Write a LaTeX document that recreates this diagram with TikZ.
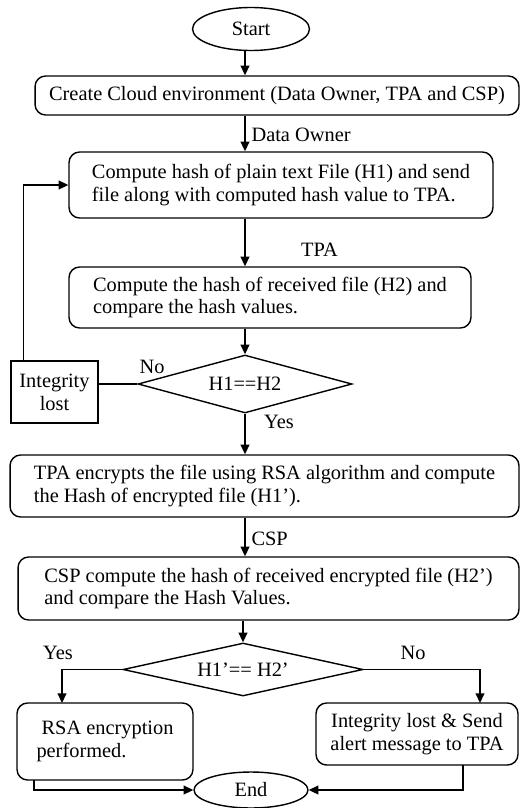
\documentclass[tikz,border=0pt]{standalone}
\usepackage{fontspec}
\setmainfont{Liberation Serif}
\usetikzlibrary{shapes.geometric,arrows.meta}

\tikzset{
  procbox/.style={draw,rounded corners=6pt,line width=0.8pt,align=left,inner sep=0pt},
  decbox/.style={draw,diamond,line width=0.8pt,inner sep=0pt},
  termbox/.style={draw,ellipse,line width=0.8pt,inner sep=0pt},
  arr/.style={line width=0.8pt,-{Triangle[length=5.5pt,width=5pt]}},
  lne/.style={line width=0.8pt}
}

\begin{document}
\begin{tikzpicture}[x=0.02cm,y=-0.02cm,font=\fontsize{11.6}{13}\selectfont]
  \useasboundingbox (0,0) rectangle (520,808);
  \coordinate (spine) at (245,0);
  \node[termbox,minimum width=2.34cm,minimum height=0.86cm] (start) at (251,29) {Start};
  \node[procbox,minimum width=9.68cm,minimum height=0.78cm] (env) at (277,95.5) {Create Cloud environment (Data Owner, TPA and CSP)};
  \node[procbox,minimum width=8.48cm,minimum height=1.32cm] (hashone) at (281,185) {Compute hash of plain text File (H1) and send\\file along with computed hash value to TPA.};
  \node[procbox,minimum width=8.04cm,minimum height=1.22cm] (hashtwo) at (270,297.5) {Compute the hash of received file (H2) and\\compare the hash values.};
  \node[decbox,aspect=3.69,minimum width=4.28cm,minimum height=1.16cm] (cmpone) at (245,384) {H1==H2};
  \node[draw,lne,align=center,inner sep=0pt,minimum width=1.74cm,minimum height=1.24cm] (lost) at (54.5,392) {Integrity\\lost};
  \node[procbox,minimum width=10.18cm,minimum height=1.24cm] (encrypt) at (264.5,486) {TPA encrypts the file using RSA algorithm and compute\\the Hash of encrypted file (H1').};
  \node[procbox,minimum width=10.02cm,minimum height=1.26cm] (csphash) at (268.5,588.5) {CSP compute the hash of received encrypted file (H2')\\and compare the Hash Values.};
  \node[decbox,aspect=4.53,minimum width=4.8cm,minimum height=1.06cm] (cmptwo) at (243,669.5) {H1'== H2'};
  \node[procbox,minimum width=3.52cm,minimum height=1.54cm] (rsadone) at (105,741.5) {\ RSA encryption\\performed.};
  \node[procbox,align=center,minimum width=4.04cm,minimum height=1.24cm] (alert) at (417,734) {Integrity lost \& Send\\alert message to TPA};
  \node[termbox,minimum width=2.28cm,minimum height=0.72cm] (end) at (251,790) {End};

  % main flow
  \draw[arr] (start.south -| spine) -- (env.north -| spine);
  \draw[arr] (env.south -| spine) -- (hashone.north -| spine) node[pos=0.55,right] {Data Owner};
  \draw[arr] (hashone.south -| spine) -- (hashtwo.north -| spine);
  \node[right] at (295,250) {TPA};
  \draw[arr] (hashtwo.south -| spine) -- (cmpone.north);
  \draw[lne] (cmpone.west) -- (cmpone.west -| lost.east);
  \node at (152,367) {No};
  \draw[arr] (lost.north west) ++(13,0) |- (hashone.west);
  \draw[arr] (cmpone.south) -- (encrypt.north -| spine);
  \node[right] at (258,422) {Yes};
  \draw[arr] (encrypt.south -| spine) -- (csphash.north -| spine) node[pos=0.55,right] {CSP};
  \draw[arr] (csphash.south -| cmptwo.north) -- (cmptwo.north);

  % result branches
  \coordinate (yesin) at (62,703);
  \coordinate (noin) at (480,703);
  \coordinate (yesout) at (34,780);
  \coordinate (noout) at (463,765);
  \draw[arr] (cmptwo.west) -| (yesin);
  \node at (58,653) {Yes};
  \draw[arr] (cmptwo.east) -| (noin);
  \node at (413,653) {No};
  \draw[arr] (yesout) |- (end.west);
  \draw[arr] (noout) |- (end.east);
\end{tikzpicture}
\end{document}
